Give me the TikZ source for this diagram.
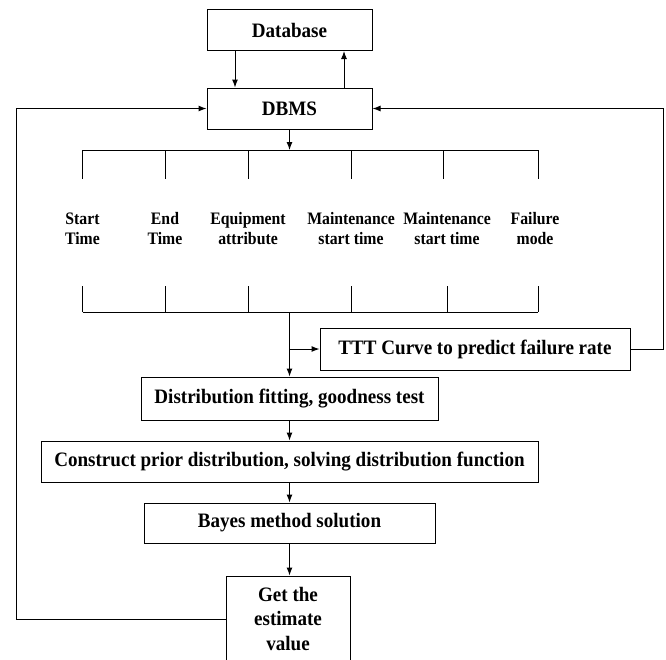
\documentclass[tikz,border=0pt]{standalone}
\usepackage{fontspec}
\setmainfont{Liberation Serif}
\newfontfamily\condfont[FakeStretch=0.93]{Liberation Serif}
\newfontfamily\condlab[FakeStretch=0.9]{Liberation Serif}
\usetikzlibrary{arrows.meta}
\begin{document}
\begin{tikzpicture}[x=1pt,y=-1pt,
  box/.style={draw, line width=1pt, inner sep=0pt, font=\condfont\fontsize{20.5}{24.5}\selectfont\bfseries, align=center},
  lab/.style={font=\condlab\fontsize{17.5}{20}\selectfont\bfseries, align=center, inner sep=0pt},
  arr/.style={-{Latex[length=8pt,width=6pt]}, line width=1pt},
  ln/.style={line width=1pt}]
\clip (0,0) rectangle (666,659);
\fill[white] (0,0) rectangle (666,659);
% boxes
\node[box, minimum width=165pt, minimum height=41pt] (db) at (289.5,30) {Database};
\node[box, minimum width=165pt, minimum height=41pt] (dbms) at (289.5,108.5) {DBMS};
\node[box, minimum width=310pt, minimum height=42pt] (ttt) at (475,349) {TTT Curve to predict failure rate};
\node[box, minimum width=297pt, minimum height=43pt] (dist) at (289.5,398.5) {Distribution fitting, goodness test};
\node[box, minimum width=497pt, minimum height=41pt] (cons) at (289.5,461.5) {Construct prior distribution, solving distribution function};
\node[box, minimum width=291pt, minimum height=40pt] (bayes) at (289.5,523) {Bayes method solution};
\node[box, minimum width=124pt, minimum height=86pt] (get) at (288,619) {Get the\\estimate\\value};
% labels
\node[lab] (l1) at (82.5,229) {Start\\Time};
\node[lab] (l2) at (165,229) {End\\Time};
\node[lab] (l3) at (248,229) {Equipment\\attribute};
\node[lab] (l4) at (351,229) {Maintenance\\start time};
\node[lab] (l5) at (447,229) {Maintenance\\start time};
\node[lab] (l6) at (535,229) {Failure\\mode};
% helper coordinates
\coordinate (dA) at (235,0);
\coordinate (dB) at (344,0);
\coordinate (lx) at (16,0);
\coordinate (rx) at (663,0);
\coordinate (tb) at (0,150);
\coordinate (tbe) at (0,179);
\coordinate (bbs) at (0,286);
\coordinate (bb) at (0,312);
\coordinate (tbl) at (82.5,150);
\coordinate (tbr) at (538,150);
\coordinate (bbl) at (82.5,312);
\coordinate (bbr) at (538,312);
% database <-> dbms
\draw[arr] (db.south -| dA) -- (dbms.north -| dA);
\draw[arr] (dbms.north -| dB) -- (db.south -| dB);
% dbms to top bus
\draw[arr] (dbms.south) -- (dbms.south |- tb);
\draw[ln] (tbl) -- (tbr);
\draw[ln] (bbl) -- (bbr);
\foreach \n in {l1,l2,l3,l4}{
  \draw[ln] (\n |- tb) -- (\n |- tbe);
  \draw[ln] (\n |- bbs) -- (\n |- bb);
}
\draw[ln] (443,150) -- (443,179);
\draw[ln] (447,286) -- (447,312);
\draw[ln] (538,150) -- (538,179);
\draw[ln] (538,286) -- (538,312);
% bottom bus to distribution and TTT
\draw[arr] (dist.north |- bb) -- (dist.north);
\draw[arr] (dist.north |- ttt.west) -- (ttt.west);
% chain
\draw[arr] (dist.south) -- (cons.north);
\draw[arr] (cons.south) -- (bayes.north);
\draw[arr] (bayes.south) -- (bayes.south |- get.north);
% feedback loops
\draw[arr] (get.west) -- (get.west -| lx) |- (dbms.west);
\draw[arr] (ttt.east) -- (ttt.east -| rx) |- (dbms.east);
\end{tikzpicture}
\end{document}
